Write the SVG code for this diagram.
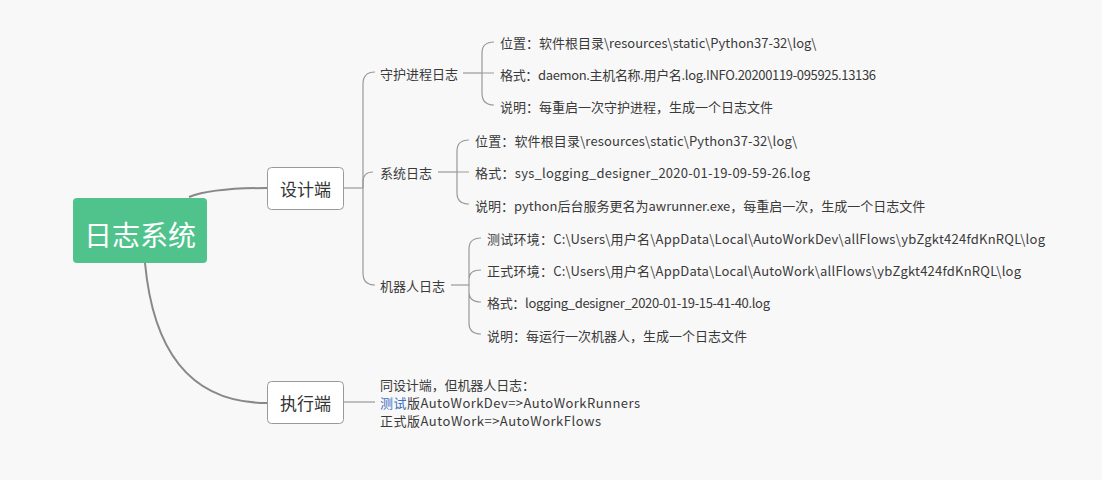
<svg xmlns="http://www.w3.org/2000/svg" width="1102" height="480" viewBox="0 0 1102 480">
<style>
.bg{fill:#f8f8f8}
.c{fill:none;stroke:#888;stroke-width:2}
.c2{fill:none;stroke:#999;stroke-width:1.2}
.t{font-family:"Noto Sans CJK SC","Microsoft YaHei",sans-serif;font-size:13px;fill:#3a3a3a;dominant-baseline:central}
.box{fill:#fff;stroke:#999;stroke-width:1}
.bt{font-family:"Noto Sans CJK SC",sans-serif;font-size:17px;fill:#333;text-anchor:middle;dominant-baseline:central}
</style>
<rect class="bg" x="0" y="0" width="1102" height="480"/>
<g id="connectors">
<path class="c" d="M189,197 Q212,188 267,188"/>
<path class="c" d="M145,263 Q158,403 267,403"/>
<path class="c2" d="M343,188 L363,188"/>
<path class="c2" d="M363,188 L363,84 Q363,72 375,72"/>
<path class="c2" d="M363,188 L363,182 Q363,172 373,172"/>
<path class="c2" d="M363,188 L363,273 Q363,285 375,285"/>
<path class="c2" d="M463,73 L482,73"/>
<path class="c2" d="M482,73 L482,53 Q482,42 494,42 M482,73 L494,73 M482,73 L482,93 Q482,105 494,105"/>
<path class="c2" d="M438,172 L457,172"/>
<path class="c2" d="M457,172 L457,151 Q457,140 469,140 M457,172 L469,172 M457,172 L457,193 Q457,204 469,204"/>
<path class="c2" d="M451,285 L469,285"/>
<path class="c2" d="M469,285 L469,249 Q469,238 481,238 M469,285 L469,279 Q469,270 481,270 M469,285 L469,292 Q469,302 481,302 M469,285 L469,323 Q469,334 481,334"/>
<path class="c2" d="M343,402 L375,402"/>
</g>
<g id="root">
<rect x="73" y="198" width="134" height="65" rx="4" fill="#50c28c"/>
<text x="140" y="234" font-family="Noto Sans CJK SC,sans-serif" font-size="28" fill="#fff" text-anchor="middle" dominant-baseline="central">日志系统</text>
</g>
<g id="design">
<rect class="box" x="267.5" y="167.5" width="76" height="42" rx="4"/>
<text class="bt" x="305.5" y="188">设计端</text>
</g>
<g id="exec">
<rect class="box" x="267.5" y="381.5" width="76" height="42" rx="4"/>
<text class="bt" x="305.5" y="402">执行端</text>
</g>
<g id="daemon-log">
<text class="t" x="380" y="73">守护进程日志</text>
</g>
<g id="daemon-leaves">
<text class="t" x="500" y="42">位置：软件根目录\resources\static\Python37-32\log\</text>
<text class="t" x="500" y="74" textLength="376" lengthAdjust="spacing">格式：daemon.主机名称.用户名.log.INFO.20200119-095925.13136</text>
<text class="t" x="500" y="106">说明：每重启一次守护进程，生成一个日志文件</text>
</g>
<g id="sys-log">
<text class="t" x="380" y="172">系统日志</text>
</g>
<g id="sys-leaves">
<text class="t" x="475" y="140" textLength="322" lengthAdjust="spacing">位置：软件根目录\resources\static\Python37-32\log\</text>
<text class="t" x="475" y="172" textLength="335" lengthAdjust="spacing">格式：sys_logging_designer_2020-01-19-09-59-26.log</text>
<text class="t" x="475" y="205">说明：python后台服务更名为awrunner.exe，每重启一次，生成一个日志文件</text>
</g>
<g id="robot-log">
<text class="t" x="380" y="285">机器人日志</text>
</g>
<g id="robot-leaves">
<text class="t" x="487" y="238" textLength="558" lengthAdjust="spacing">测试环境：C:\Users\用户名\AppData\Local\AutoWorkDev\allFlows\ybZgkt424fdKnRQL\log</text>
<text class="t" x="487" y="270" textLength="534" lengthAdjust="spacing">正式环境：C:\Users\用户名\AppData\Local\AutoWork\allFlows\ybZgkt424fdKnRQL\log</text>
<text class="t" x="487" y="302" textLength="283" lengthAdjust="spacing">格式：logging_designer_2020-01-19-15-41-40.log</text>
<text class="t" x="487" y="335">说明：每运行一次机器人，生成一个日志文件</text>
</g>
<g id="exec-note">
<text class="t" x="380" y="384" textLength="155" lengthAdjust="spacing">同设计端，但机器人日志：</text>
<text class="t" x="380" y="402" textLength="260" lengthAdjust="spacing"><tspan fill="#3b6fc4">测试</tspan>版AutoWorkDev=&gt;AutoWorkRunners</text>
<text class="t" x="380" y="420" textLength="221" lengthAdjust="spacing">正式版AutoWork=&gt;AutoWorkFlows</text>
</g>
</svg>
